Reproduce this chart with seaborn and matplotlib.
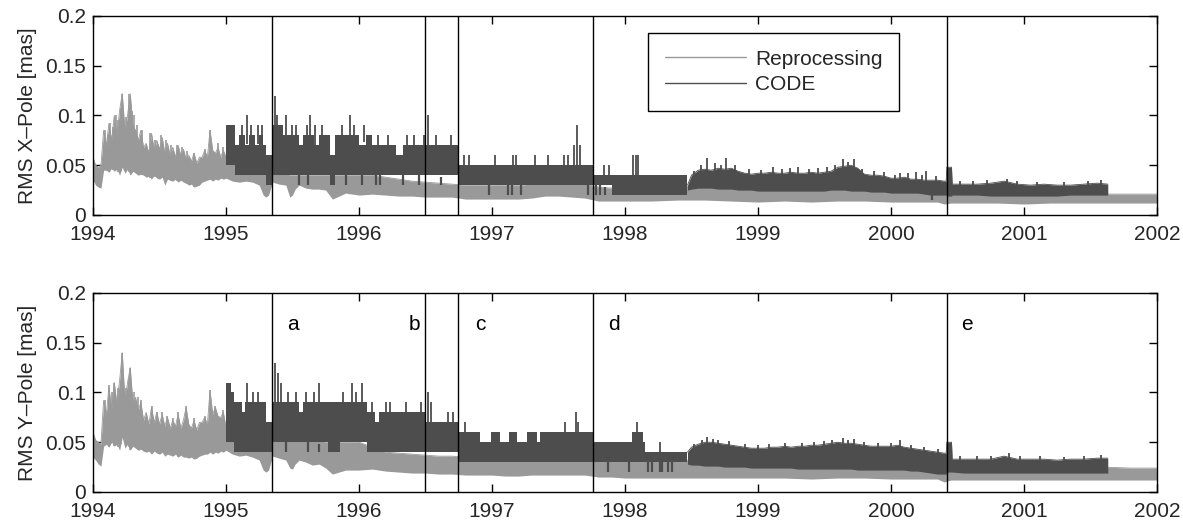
import numpy as np
import seaborn as sns
import matplotlib.pyplot as plt

# colores
gris_claro = "#999999"
gris_osc = "#4d4d4d"

# ---- Reprocessing (bandas min/max) ----
rep_t = [1994.00, 1994.02, 1994.04, 1994.06, 1994.08, 1994.10, 1994.12, 1994.14, 1994.16, 1994.18,
         1994.20, 1994.22, 1994.24, 1994.26, 1994.28, 1994.30, 1994.32, 1994.34, 1994.36, 1994.38,
         1994.40, 1994.42, 1994.44, 1994.46, 1994.48, 1994.50, 1994.52, 1994.54, 1994.56, 1994.58,
         1994.60, 1994.62, 1994.64, 1994.66, 1994.68, 1994.70, 1994.72, 1994.74, 1994.76, 1994.78,
         1994.80, 1994.82, 1994.84, 1994.86, 1994.88, 1994.90, 1994.92, 1994.94, 1994.96, 1994.98,
         1995.00,
         1995.05, 1995.10, 1995.15, 1995.20, 1995.25, 1995.28, 1995.30, 1995.32, 1995.35, 1995.40,
         1995.45, 1995.48, 1995.50, 1995.52, 1995.55, 1995.60, 1995.65, 1995.70, 1995.75, 1995.80,
         1995.90,
         1996.0, 1996.1, 1996.2, 1996.3, 1996.4, 1996.5, 1996.6, 1996.7, 1996.8, 1996.9,
         1997.0, 1997.1, 1997.2, 1997.3, 1997.4, 1997.5, 1997.6, 1997.7, 1997.8, 1997.9,
         1998.0, 1998.2, 1998.4, 1998.6, 1998.8,
         1999.0, 1999.2, 1999.4, 1999.6, 1999.8,
         2000.0, 2000.2, 2000.35, 2000.4, 2000.45, 2000.6, 2000.8,
         2001.0, 2001.2, 2001.4, 2001.6, 2001.8, 2002.0]

repx_hi = [.058, .050, .048, .050, .085, .070, .092, .075, .100, .080,
           .105, .122, .085, .100, .122, .090, .085, .075, .085, .068,
           .072, .062, .082, .065, .075, .066, .078, .062, .072, .060,
           .068, .058, .070, .060, .066, .056, .060, .054, .062, .052,
           .058, .058, .065, .058, .085, .065, .062, .068, .058, .065,
           .058,
           .055, .052, .050, .050, .048, .045, .045, .045, .048, .045,
           .042, .040, .040, .040, .040, .040, .040, .040, .040, .040,
           .040,
           .040, .040, .038, .036, .034, .033, .032, .031, .030, .030,
           .030, .030, .030, .031, .032, .033, .032, .031, .028, .027,
           .027, .027, .028, .030, .028,
           .027, .028, .029, .031, .029,
           .028, .027, .026, .025, .022, .022, .022,
           .022, .021, .021, .021, .021, .021]
repx_lo = [.035, .030, .028, .027, .045, .045, .043, .047, .044, .046,
           .040, .048, .042, .046, .040, .044, .042, .040, .041, .040,
           .038, .039, .036, .040, .037, .036, .038, .030, .036, .035,
           .034, .036, .033, .035, .033, .032, .030, .031, .028, .029,
           .030, .033, .034, .035, .036, .034, .036, .035, .037, .036,
           .037,
           .034, .033, .034, .033, .030, .020, .018, .020, .033, .031,
           .030, .018, .020, .026, .030, .027, .026, .026, .025, .016,
           .022,
           .020, .021, .020, .019, .019, .018, .018, .018, .016, .016,
           .016, .016, .016, .017, .019, .019, .018, .017, .014, .014,
           .014, .014, .015, .015, .014,
           .013, .014, .013, .014, .014,
           .013, .013, .013, .011, .012, .012, .012,
           .011, .012, .012, .012, .012, .012]

repy_hi = [.060, .052, .050, .048, .092, .078, .105, .082, .110, .088,
           .112, .140, .092, .110, .125, .090, .095, .082, .090, .072,
           .080, .068, .085, .070, .080, .068, .078, .066, .075, .064,
           .072, .066, .078, .064, .072, .085, .068, .064, .072, .062,
           .070, .070, .075, .068, .102, .078, .085, .076, .075, .080,
           .065,
           .060, .058, .056, .055, .053, .052, .052, .052, .055, .055,
           .054, .053, .053, .053, .053, .052, .052, .052, .050, .050,
           .050,
           .050, .045, .040, .039, .038, .037, .036, .036, .035, .035,
           .034, .034, .034, .034, .034, .035, .035, .034, .033, .033,
           .033, .032, .032, .032, .031,
           .031, .031, .032, .033, .032,
           .031, .030, .029, .028, .026, .026, .026,
           .025, .025, .025, .025, .024, .024]
repy_lo = [.035, .032, .028, .026, .046, .048, .045, .050, .046, .048,
           .042, .055, .044, .048, .042, .046, .044, .042, .043, .041,
           .040, .041, .038, .041, .039, .038, .040, .036, .038, .037,
           .036, .038, .035, .037, .035, .035, .034, .035, .033, .034,
           .036, .037, .038, .038, .040, .038, .040, .039, .041, .040,
           .042,
           .038, .036, .037, .035, .032, .022, .020, .022, .036, .034,
           .032, .024, .023, .028, .032, .030, .027, .028, .024, .018,
           .022,
           .022, .023, .021, .020, .019, .019, .018, .018, .017, .017,
           .017, .016, .016, .017, .017, .017, .017, .017, .015, .015,
           .014, .014, .014, .014, .014,
           .014, .014, .013, .014, .014,
           .013, .013, .013, .010, .012, .012, .012,
           .012, .012, .012, .012, .012, .012]

# picos de Reprocessing en 1994
repx_spk_t = [1994.09, 1994.11, 1994.13, 1994.15, 1994.17, 1994.19, 1994.21, 1994.22, 1994.25, 1994.27,
              1994.29, 1994.31, 1994.33, 1994.37, 1994.43, 1994.47, 1994.51, 1994.55, 1994.59, 1994.63,
              1994.67, 1994.71, 1994.76, 1994.84, 1994.88, 1994.94, 1994.98]
repx_spk_v = [.085, .080, .092, .088, .100, .095, .108, .122, .098, .122,
              .105, .100, .090, .085, .082, .075, .080, .075, .070, .070,
              .068, .064, .062, .066, .085, .072, .068]
repy_spk_t = [1994.09, 1994.12, 1994.14, 1994.16, 1994.19, 1994.21, 1994.22, 1994.25, 1994.27, 1994.28,
              1994.31, 1994.34, 1994.36, 1994.44, 1994.48, 1994.52, 1994.56, 1994.60, 1994.64, 1994.70,
              1994.76, 1994.84, 1994.88, 1994.92, 1994.98]
repy_spk_v = [.092, .108, .100, .110, .105, .112, .140, .105, .115, .125,
              .100, .095, .092, .086, .080, .080, .076, .074, .080, .086,
              .074, .076, .102, .086, .082]

# ---- CODE, epoca con valores escalonados (0.01 mas) ----
codex_t = [1995.00, 1995.07, 1995.10, 1995.14, 1995.17, 1995.22, 1995.25, 1995.28, 1995.30, 1995.35,
           1995.40, 1995.43, 1995.47, 1995.55, 1995.58, 1995.66, 1995.70, 1995.78, 1995.82, 1996.00,
           1996.05, 1996.10, 1996.28, 1996.33, 1996.75, 1997.757, 1997.90, 1998.47]
codex_lo = [.05, .04, .04, .04, .04, .04, .04, .04, .03, .04,
            .04, .04, .04, .04, .04, .04, .04, .03, .04, .04,
            .04, .04, .04, .04, .03, .03, .02, .02]
codex_hi = [.09, .07, .08, .07, .08, .07, .08, .07, .06, .09,
            .09, .08, .08, .07, .08, .07, .08, .06, .08, .07,
            .08, .07, .06, .07, .05, .04, .04, .04]

codey_t = [1995.00, 1995.04, 1995.06, 1995.12, 1995.14, 1995.30, 1995.35, 1995.55, 1995.58, 1995.77,
           1995.86, 1996.06, 1996.12, 1996.15, 1996.50, 1996.75, 1996.91, 1996.99, 1997.06, 1997.13,
           1997.19, 1997.26, 1997.34, 1997.36, 1997.757, 1998.05, 1998.135, 1998.15, 1998.47]
codey_lo = [.05, .05, .04, .04, .04, .04, .05, .05, .05, .04,
            .05, .04, .04, .04, .04, .03, .03, .03, .03, .03,
            .03, .03, .03, .03, .03, .03, .03, .03, .03]
codey_hi = [.11, .10, .09, .08, .09, .07, .09, .08, .09, .09,
            .09, .08, .07, .08, .07, .06, .05, .06, .05, .06,
            .05, .06, .05, .06, .05, .06, .05, .04, .04]

# ---- CODE, epoca continua (1998.5 - 2001.6) ----
code2_t = [1998.47, 1998.50, 1998.55, 1998.60, 1998.65, 1998.70, 1998.75, 1998.80, 1998.85, 1998.90,
           1998.95, 1999.00, 1999.05, 1999.10, 1999.15, 1999.20, 1999.25, 1999.30, 1999.35, 1999.40,
           1999.45, 1999.50, 1999.55, 1999.60, 1999.65, 1999.70, 1999.75, 1999.80, 1999.85, 1999.90,
           1999.95, 2000.00, 2000.05, 2000.10, 2000.15, 2000.20, 2000.25, 2000.30, 2000.35, 2000.40,
           2000.415, 2000.42, 2000.455, 2000.46, 2000.55, 2000.65, 2000.75, 2000.85, 2000.95, 2001.05,
           2001.15, 2001.25, 2001.35, 2001.45, 2001.55, 2001.63]
codex2_hi = [.030, .040, .045, .046, .045, .047, .046, .047, .044, .042,
             .041, .042, .042, .043, .042, .042, .043, .042, .042, .043,
             .042, .043, .044, .048, .049, .050, .047, .041, .040, .040,
             .039, .037, .037, .038, .036, .036, .035, .035, .035, .034,
             .034, .048, .048, .031, .031, .031, .032, .034, .031, .030,
             .031, .030, .030, .031, .032, .031]
codex2_lo = [.025, .026, .027, .027, .027, .026, .026, .026, .025, .025,
             .025, .024, .024, .024, .024, .024, .024, .024, .024, .024,
             .024, .024, .025, .025, .025, .024, .024, .024, .023, .023,
             .023, .022, .022, .022, .022, .022, .021, .020, .020, .020,
             .020, .019, .019, .020, .020, .020, .019, .019, .019, .019,
             .019, .019, .020, .020, .020, .020]
codey2_hi = [.040, .045, .048, .050, .050, .049, .048, .047, .046, .045,
             .044, .044, .044, .045, .045, .046, .045, .046, .046, .047,
             .047, .048, .049, .050, .049, .049, .048, .047, .046, .046,
             .046, .046, .047, .045, .044, .043, .042, .041, .040, .039,
             .039, .050, .050, .033, .033, .033, .033, .036, .033, .033,
             .033, .032, .033, .033, .034, .034]
codey2_lo = [.028, .027, .027, .026, .026, .026, .025, .025, .025, .025,
             .024, .024, .024, .024, .024, .024, .024, .023, .023, .023,
             .023, .023, .023, .023, .023, .023, .022, .022, .022, .022,
             .022, .022, .022, .022, .021, .021, .020, .019, .018, .018,
             .018, .020, .020, .020, .019, .019, .019, .019, .019, .019,
             .019, .019, .019, .019, .019, .019]

# picos (hacia arriba) y caidas (hacia abajo) de CODE
codex_up_t = [1995.12, 1995.16, 1995.19, 1995.24, 1995.27, 1995.37, 1995.38, 1995.45, 1995.50, 1995.53,
              1995.61, 1995.63, 1995.67, 1995.72, 1995.87, 1995.93, 1995.96, 1996.04, 1996.14, 1996.22,
              1996.36, 1996.41, 1996.49, 1996.52, 1996.58, 1996.69, 1996.79, 1996.83, 1997.02, 1997.16,
              1997.18, 1997.32, 1997.42, 1997.54, 1997.57, 1997.62, 1997.64, 1997.66, 1997.84, 1997.88,
              1998.06, 1998.08, 1998.10, 1998.62, 1998.68, 1998.76, 1999.11, 1999.30, 1999.64, 1999.72,
              2000.07, 2000.19, 2000.26, 2000.87,
              1998.52, 1998.57, 1998.72, 1998.83, 1998.93, 1999.02, 1999.18, 1999.24, 1999.38, 1999.45,
              1999.52, 1999.58, 1999.68, 1999.78, 1999.87, 1999.95, 2000.03, 2000.13, 2000.23, 2000.34,
              2000.52, 2000.62, 2000.72, 2000.95, 2001.10, 2001.30, 2001.48, 2001.58]
codex_up_v = [.09, .10, .09, .09, .09, .12, .10, .10, .09, .09,
              .09, .10, .09, .09, .09, .10, .09, .09, .08, .08,
              .08, .08, .08, .10, .08, .08, .06, .06, .06, .06,
              .06, .06, .06, .06, .06, .07, .09, .07, .05, .05,
              .06, .06, .06, .057, .052, .057, .048, .048, .056, .056,
              .042, .043, .044, .036,
              .044, .050, .050, .050, .046, .045, .046, .047, .046, .047,
              .048, .050, .053, .046, .044, .043, .040, .042, .040, .039,
              .034, .034, .035, .034, .033, .033, .034, .035]
codex_dn_t = [1995.55, 1995.62, 1995.90, 1996.02, 1996.13, 1996.16, 1996.33, 1996.45, 1996.62, 1996.98,
              1997.12, 1997.15, 1997.22, 1997.72, 1997.78, 1997.81, 1997.85, 2000.31]
codex_dn_v = [.03, .03, .03, .03, .03, .03, .03, .03, .03, .02,
              .02, .02, .02, .02, .02, .02, .02, .015]

codey_up_t = [1995.16, 1995.20, 1995.24, 1995.37, 1995.39, 1995.41, 1995.47, 1995.53, 1995.60, 1995.66,
              1995.70, 1995.88, 1995.95, 1995.98, 1996.02, 1996.10, 1996.20, 1996.23, 1996.35, 1996.47,
              1996.52, 1996.54, 1996.67, 1996.71, 1996.80, 1997.55, 1997.60, 1997.63, 1997.65, 1998.09,
              1998.26, 1998.62, 1998.66, 1999.64, 1999.72, 2000.07, 2000.89,
              1998.52, 1998.58, 1998.70, 1998.78, 1998.90, 1999.00, 1999.08, 1999.20, 1999.33, 1999.42,
              1999.50, 1999.56, 1999.68, 1999.80, 1999.90, 2000.00, 2000.15, 2000.25, 2000.35, 2000.52,
              2000.65, 2000.75, 2000.97, 2001.12, 2001.30, 2001.45, 2001.58]
codey_up_v = [.11, .10, .10, .13, .12, .11, .10, .10, .10, .10,
              .11, .10, .11, .10, .11, .09, .09, .09, .09, .09,
              .10, .09, .08, .08, .07, .07, .06, .08, .07, .07,
              .05, .055, .053, .054, .053, .052, .039,
              .048, .052, .052, .051, .048, .047, .048, .049, .049, .050,
              .051, .052, .052, .050, .049, .049, .047, .045, .043, .036,
              .036, .036, .036, .036, .035, .036, .037]
codey_dn_t = [1995.45, 1995.62, 1995.70, 1997.87, 1998.03, 1998.17, 1998.20, 1998.26, 1998.28, 1998.32,
              1998.35]
codey_dn_v = [.04, .04, .04, .02, .02, .02, .02, .02, .02, .02,
              .02]

# cambios de estrategia y etiquetas
cambios = [1995.346, 1996.496, 1996.747, 1997.757, 2000.418]
etiquetas = ["a", "b", "c", "d", "e"]
etiq_x = [1995.46, 1996.37, 1996.87, 1997.87, 2000.53]
etiq_y = 0.168

anios = [1994, 1995, 1996, 1997, 1998, 1999, 2000, 2001, 2002]
yticks = [0, 0.05, 0.1, 0.15, 0.2]
ylabels = ["0", "0.05", "0.1", "0.15", "0.2"]

sns.set_theme(style="ticks")
plt.rcParams['font.family'] = ['Liberation Sans', 'DejaVu Sans']
plt.rcParams['font.size'] = 15


def panel(ax, r_hi, r_lo, r_spk_t, r_spk_v, c_t, c_lo, c_hi, c2_hi, c2_lo,
          up_t, up_v, dn_t, dn_v, ylab, con_leyenda):
    ax.fill_between(rep_t, r_lo, r_hi, color=gris_claro, lw=0, zorder=1)
    sns.lineplot(x=rep_t, y=r_hi, ax=ax, color=gris_claro, lw=0.6, estimator=None,
                 label="Reprocessing", legend=False, zorder=1)
    base_r = np.interp(r_spk_t, rep_t, r_lo)
    ax.vlines(r_spk_t, base_r, r_spk_v, color=gris_claro, lw=1.2, zorder=1)

    ax.fill_between(c_t, c_lo, c_hi, step="post", color=gris_osc, lw=0, zorder=2)
    ax.fill_between(code2_t, c2_lo, c2_hi, color=gris_osc, lw=0, zorder=2)
    sns.lineplot(x=code2_t, y=c2_hi, ax=ax, color=gris_osc, lw=0.6, estimator=None,
                 label="CODE", legend=False, zorder=2)
    # picos
    base_up = np.interp(up_t, c_t + code2_t, c_hi + c2_hi)
    ax.vlines(up_t, np.minimum(base_up, up_v) - 0.005, up_v, color=gris_osc, lw=1.3, zorder=2)
    base_dn = np.interp(dn_t, c_t + code2_t, c_lo + c2_lo)
    ax.vlines(dn_t, dn_v, base_dn + 0.005, color=gris_osc, lw=1.6, zorder=2)

    for c in cambios:
        ax.axvline(c, color="black", lw=1.0, zorder=3)

    ax.set_xlim(1994, 2002)
    ax.set_ylim(0, 0.2)
    ax.set_xticks(anios)
    ax.set_xticklabels([str(a) for a in anios])
    ax.set_yticks(yticks)
    ax.set_yticklabels(ylabels)
    ax.set_ylabel(ylab, fontsize=15, labelpad=6)
    ax.set_xlabel("")
    ax.tick_params(direction="in", top=True, right=True, length=6, width=1,
                   labelsize=15, color="black", pad=5)
    ax.tick_params(axis="x", pad=7.5)
    for s in ax.spines.values():
        s.set_visible(True)
        s.set_linewidth(1.0)
        s.set_color("black")
    if con_leyenda:
        leg = ax.legend(loc="upper left", bbox_to_anchor=(0.5216, 0.9146), borderaxespad=0,
                        fancybox=False, framealpha=1, edgecolor="black", fontsize=15,
                        handlelength=3.9, handletextpad=0.45, borderpad=0.8, labelspacing=0.3)
        leg.get_frame().set_linewidth(1.0)
        for ln in leg.get_lines():
            ln.set_linewidth(1.0)


fig = plt.figure(figsize=(11.83, 5.24), dpi=100)
ax1 = fig.add_axes([0.0786, 0.5897, 0.8994, 0.3798])
ax2 = fig.add_axes([0.0786, 0.0611, 0.8994, 0.3798])

panel(ax1, repx_hi, repx_lo, repx_spk_t, repx_spk_v, codex_t, codex_lo, codex_hi,
      codex2_hi, codex2_lo, codex_up_t, codex_up_v, codex_dn_t, codex_dn_v,
      "RMS X\u2013Pole [mas]", True)
panel(ax2, repy_hi, repy_lo, repy_spk_t, repy_spk_v, codey_t, codey_lo, codey_hi,
      codey2_hi, codey2_lo, codey_up_t, codey_up_v, codey_dn_t, codey_dn_v,
      "RMS Y\u2013Pole [mas]", False)

for lx, lt in zip(etiq_x, etiquetas):
    ax2.text(lx, etiq_y, lt, fontsize=15, ha="left", va="center", color="black", zorder=4)

fig.savefig("out.png", dpi=100)
